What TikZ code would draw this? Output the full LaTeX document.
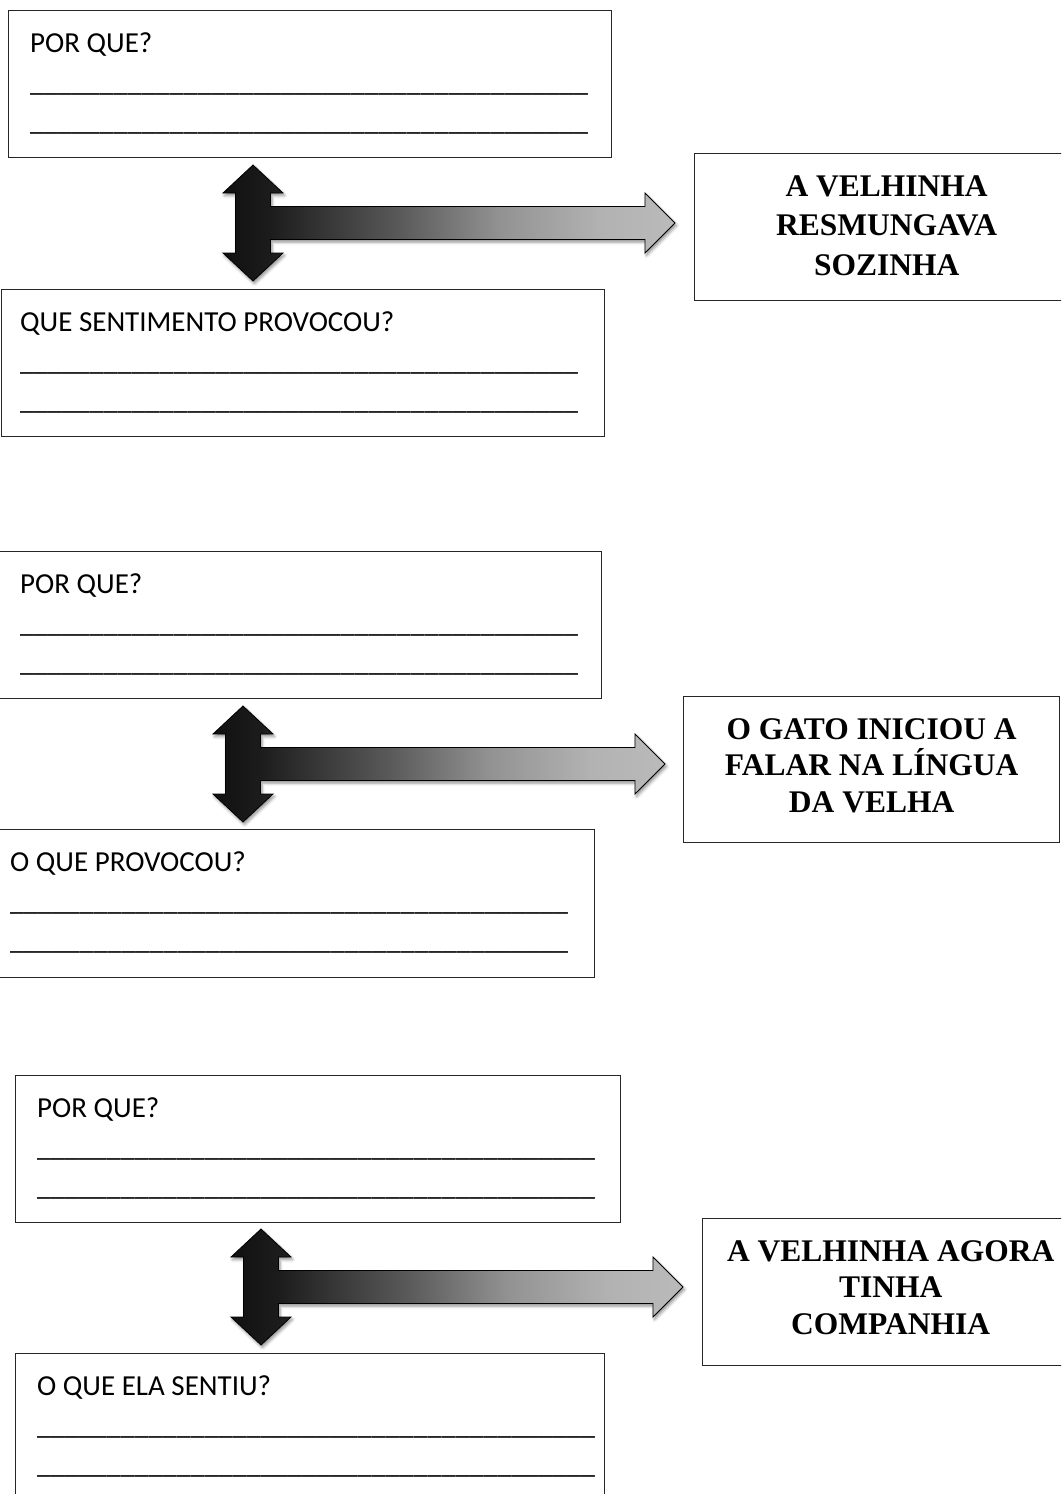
\documentclass[tikz,border=0pt]{standalone}
\usepackage{fontspec}
\setmainfont{Liberation Serif}
\newfontfamily\carlito{Carlito}
\usetikzlibrary{shadows.blur}

% grey ramp of the three-headed arrows
\definecolor{rampA}{HTML}{101010}
\definecolor{rampB}{HTML}{1C1C1C}
\definecolor{rampC}{HTML}{5A5A5A}
\definecolor{rampD}{HTML}{929292}
\definecolor{rampE}{HTML}{B2B2B2}
\definecolor{rampF}{HTML}{BABABA}
\pgfdeclarehorizontalshading{arrowramp}{100bp}{%
  color(0bp)=(rampA); color(25bp)=(rampA); color(30.2bp)=(rampB);
  color(44.6bp)=(rampC); color(55.6bp)=(rampD); color(66.7bp)=(rampE);
  color(75bp)=(rampF); color(100bp)=(rampF)}

% forty underscores for a writing line
\newcommand\tenbars{\_\_\_\_\_\_\_\_\_\_}
\newcommand\answerline{\tenbars\tenbars\tenbars\tenbars}
% the question heading of a box
\newcommand\question[1]{{\fontsize{29}{39}\selectfont #1}}

\tikzset{
  qbox/.style={draw=black!85, line width=1.3pt, anchor=north west,
    inner sep=0pt, rectangle},
  qtext/.style={anchor=north west, inner sep=0pt, align=left,
    font=\carlito\fontsize{28}{39}\selectfont},
  ebox/.style={draw=black!85, line width=1.3pt, anchor=north west,
    inner sep=0pt, rectangle},
  etext/.style={anchor=north, inner sep=0pt, align=center,
    font=\bfseries\fontsize{31.5}{36.5}\selectfont},
  arrowbody/.style={draw=black, line width=0.8pt, line join=miter,
    shading=arrowramp,
    blur shadow={shadow xshift=1.5pt, shadow yshift=-2.5pt,
      shadow blur radius=3pt, shadow opacity=45}},
  triarrow/.pic={
    \path[arrowbody] (0,-58) -- (30,-30) -- (17.5,-30) -- (17.5,-16.5)
      -- (392,-16.5) -- (392,-30) -- (422,0) -- (392,30) -- (392,16.5)
      -- (17.5,16.5) -- (17.5,30) -- (30,30) -- (0,58) -- (-30,30)
      -- (-17.5,30) -- (-17.5,-30) -- (-30,-30) -- cycle;
  }
}

\begin{document}
\begin{tikzpicture}[x=1pt,y=-1pt]
\useasboundingbox (0,0) rectangle (1061,1494);
\clip (0,0) rectangle (1061,1494);

% ---------- first block ----------
\node[qbox, minimum width=603pt, minimum height=147pt] (A1) at (8,10) {};
\node[qtext] (A1t) at ([shift={(22,22)}]A1.north west)
  {\question{POR QUE?}\\\answerline\\\answerline};
\pic at (253,223) {triarrow};
\node[ebox, minimum width=384pt, minimum height=147pt] (B1) at (694,153) {};
\node[etext, font=\bfseries\fontsize{31.5}{40}\selectfont] (B1t)
  at ([shift={(0,22)}]B1.north) {A VELHINHA\\RESMUNGAVA\\SOZINHA};
\node[qbox, minimum width=603pt, minimum height=147pt] (C1) at (1,289) {};
\node[qtext] (C1t) at ([shift={(19,22)}]C1.north west)
  {\question{QUE SENTIMENTO PROVOCOU?}\\\answerline\\\answerline};

% ---------- second block ----------
\node[qbox, minimum width=603pt, minimum height=147pt] (A2) at (-2,551) {};
\node[qtext] (A2t) at ([shift={(22,22)}]A2.north west)
  {\question{POR QUE?}\\\answerline\\\answerline};
\pic at (243,764) {triarrow};
\node[ebox, minimum width=376pt, minimum height=146pt] (B2) at (683,696) {};
\node[etext] (B2t) at ([shift={(0,22)}]B2.north)
  {O GATO INICIOU A\\FALAR NA LÍNGUA\\DA VELHA};
\node[qbox, minimum width=596pt, minimum height=148pt] (C2) at (-2,829) {};
\node[qtext] (C2t) at ([shift={(12,22)}]C2.north west)
  {\question{O QUE PROVOCOU?}\\\answerline\\\answerline};

% ---------- third block ----------
\node[qbox, minimum width=605pt, minimum height=147pt] (A3) at (15,1075) {};
\node[qtext] (A3t) at ([shift={(22,22)}]A3.north west)
  {\question{POR QUE?}\\\answerline\\\answerline};
\pic at (261,1287) {triarrow};
\node[ebox, minimum width=376pt, minimum height=147pt] (B3) at (702,1218) {};
\node[etext] (B3t) at ([shift={(0,22)}]B3.north)
  {A VELHINHA AGORA\\TINHA\\COMPANHIA};
\node[qbox, minimum width=589pt, minimum height=150pt] (C3) at (15,1353) {};
\node[qtext] (C3t) at ([shift={(22,22)}]C3.north west)
  {\question{O QUE ELA SENTIU?}\\\answerline\\\answerline};
\end{tikzpicture}
\end{document}
